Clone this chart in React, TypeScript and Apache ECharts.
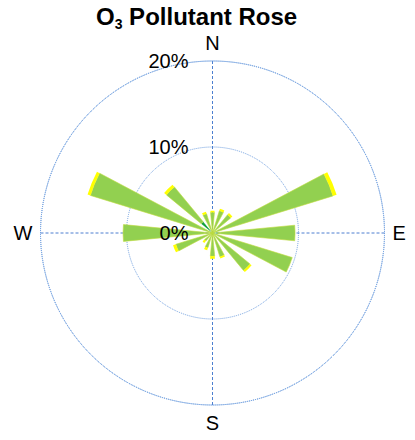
import React, { useEffect, useRef } from "react";
import * as echarts from "echarts";

const directions = ["N", "NNE", "NE", "ENE", "E", "ESE", "SE", "SSE", "S", "SSW", "SW", "WSW", "W", "WNW", "NW", "NNW"];
// percentage of time in each concentration bin, per direction
const lowBin = [0, 0, 0, 0, 0.6, 0, 0, 0, 0, 0, 0, 0, 0, 0, 1.7, 0];
const midBin = [2.4, 2.7, 2.75, 14.65, 9.0, 9.7, 5.65, 2.9, 2.7, 1.8, 1.2, 4.45, 10.4, 14.85, 5.25, 2.35];
const highBin = [0.2, 0.25, 0.25, 0.45, 0, 0, 0.25, 0.2, 0.3, 0.3, 0.3, 0.35, 0, 0.35, 0.35, 0.25];
const radiusTicks = [0, 10, 20];

const FONT = "Liberation Sans, Arial, Helvetica, sans-serif";

export default function App() {
  const ref = useRef<HTMLDivElement>(null);
  useEffect(() => {
    document.body.style.margin = "0";
    const chart = echarts.init(ref.current!, null, { renderer: "svg" });
    const center: [number, number] = [212.5, 233];
    const radius = 172;
    const rMax = radiusTicks[radiusTicks.length - 1];
    const step = radiusTicks[1] - radiusTicks[0];
    const gridColor = "#6f9fe0";
    chart.setOption({
      animation: false,
      title: {
        text: "{a|O}{b|3}{a| Pollutant Rose}",
        left: 96,
        top: 4,
        padding: 0,
        textStyle: {
          rich: {
            a: { fontSize: 24, fontWeight: "bold", fontFamily: FONT, color: "#000", lineHeight: 24, verticalAlign: "top" },
            b: { fontSize: 14, fontWeight: "bold", fontFamily: FONT, color: "#000", lineHeight: 40, verticalAlign: "middle" },
          },
        },
      },
      polar: [
        { center, radius },
        { center, radius },
        { center, radius },
      ],
      angleAxis: [
        {
          polarIndex: 0,
          type: "category",
          data: directions,
          startAngle: 90 + 360 / directions.length / 2,
          clockwise: true,
          axisLine: { show: false },
          axisTick: { show: false },
          splitLine: { show: false },
          axisLabel: { interval: 3, fontSize: 20, fontFamily: FONT, color: "#000", margin: 8 },
          z: 5,
        },
        {
          polarIndex: 1,
          type: "value",
          min: 0,
          max: 360,
          interval: 90,
          startAngle: 90,
          clockwise: true,
          axisLine: { show: true, lineStyle: { color: gridColor, width: 1, type: "dotted" } },
          axisTick: { show: false },
          axisLabel: { show: false },
          splitLine: { show: true, lineStyle: { color: "#4d7fd0", width: 1, type: [3, 2] } },
          z: 0,
        },
        {
          polarIndex: 2,
          type: "value",
          min: 0,
          max: 360,
          startAngle: 90,
          show: false,
        },
      ],
      radiusAxis: [
        { polarIndex: 0, type: "value", min: 0, max: rMax, show: false },
        {
          polarIndex: 1,
          type: "value",
          min: 0,
          max: rMax,
          interval: step,
          axisLine: { show: false },
          axisTick: { show: false },
          axisLabel: { show: false },
          splitLine: { show: true, lineStyle: { color: gridColor, width: 1, type: "dotted" } },
          z: 0,
        },
        {
          polarIndex: 2,
          type: "value",
          min: 0,
          max: rMax,
          interval: step,
          axisLine: { show: false },
          axisTick: { show: false },
          splitLine: { show: false },
          axisLabel: { formatter: "{value}%", fontSize: 20, fontFamily: FONT, color: "#000", margin: 24 },
          z: 10,
        },
      ],
      series: [
        {
          type: "bar",
          coordinateSystem: "polar",
          polarIndex: 0,
          stack: "rose",
          barWidth: "48%",
          data: lowBin,
          itemStyle: { color: "#12a03c" },
          z: 3,
        },
        {
          type: "bar",
          coordinateSystem: "polar",
          polarIndex: 0,
          stack: "rose",
          barWidth: "48%",
          data: midBin,
          itemStyle: { color: "#92d050", borderColor: "#c0dc3c", borderWidth: 0.6 },
          z: 3,
        },
        {
          type: "bar",
          coordinateSystem: "polar",
          polarIndex: 0,
          stack: "rose",
          barWidth: "48%",
          data: highBin,
          itemStyle: { color: "#ffff00" },
          z: 3,
        },
      ],
    });
    return () => chart.dispose();
  }, []);
  return <div ref={ref} style={{ width: 415, height: 440 }} />;
}
